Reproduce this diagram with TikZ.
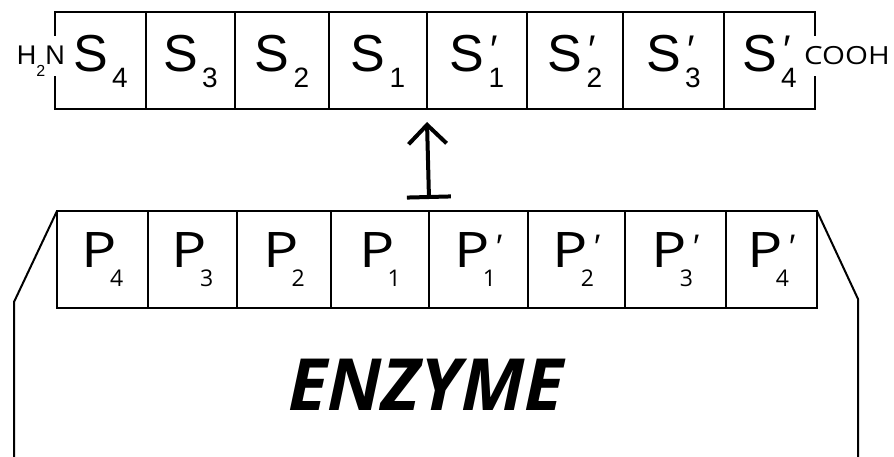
\documentclass[tikz,border=0pt]{standalone}
\usepackage{fontspec}
\setmainfont{Liberation Sans}
\newfontfamily\pfont{Open Sans}
\usetikzlibrary{arrows.meta}
\newcommand{\sS}{{\fontsize{52}{52}\selectfont S}\hspace{4pt}}
\newcommand{\sSub}[1]{\raisebox{-16pt}{\fontsize{28}{28}\selectfont #1}}
\newcommand{\sPr}{\makebox[0pt][l]{\raisebox{8pt}{\hspace{2pt}\fontsize{40}{40}\selectfont ′}}}
\newcommand{\pP}{\scalebox{1.2}[1]{\pfont\fontsize{49}{49}\selectfont P}\hspace{-7pt}}
\newcommand{\pSub}[1]{\raisebox{-19pt}{\pfont\fontsize{23}{23}\selectfont #1}}
\newcommand{\pPr}{\hspace{0pt}\raisebox{9pt}{\fontsize{34}{34}\selectfont ′}}
\begin{document}
\begin{tikzpicture}[x=1pt,y=-1pt,
  cellS/.style={rectangle,inner sep=0pt,outer sep=0pt,minimum height=97pt},
  cellP/.style={cellS,draw,line width=2pt},
  edge/.style={line width=2pt,line cap=rect},
  lab/.style={inner sep=0pt,anchor=base}]
\useasboundingbox (0,0) rectangle (894,457);
% substrate cells
\node[cellS,minimum width=91pt]  (s4) at (100.5,60.5) {};
\node[cellS,minimum width=89pt]  (s3) at (190.5,60.5) {};
\node[cellS,minimum width=94pt]  (s2) at (282,60.5) {};
\node[cellS,minimum width=98pt]  (s1) at (378,60.5) {};
\node[cellS,minimum width=100pt] (t1) at (477,60.5) {};
\node[cellS,minimum width=96pt]  (t2) at (575,60.5) {};
\node[cellS,minimum width=101pt] (t3) at (673.5,60.5) {};
\node[cellS,minimum width=91pt]  (t4) at (769.5,60.5) {};
\draw[edge] (s4.north west) -- (t4.north east);
\draw[edge] (s4.south west) -- (t4.south east);
\foreach \c in {s4,s3,s2,s1,t1,t2,t3}
  \draw[edge] (\c.north east) -- (\c.south east);
\draw[edge] (s4.north west) -- ++(0,23);
\draw[edge] (s4.south west) -- ++(0,-32);
\draw[edge] (t4.north east) -- ++(0,23);
\draw[edge] (t4.south east) -- ++(0,-32);
% substrate labels
\coordinate (sb) at (0,72);
\node[lab] (ls4) at (s4 |- sb) {\sS\sSub{4}};
\node[lab] (ls3) at (s3 |- sb) {\sS\sSub{3}};
\node[lab] (ls2) at (s2 |- sb) {\sS\sSub{2}};
\node[lab] (ls1) at (s1 |- sb) {\sS\sSub{1}};
\node[lab] (lt1) at (t1 |- sb) {\sS\sPr\sSub{1}};
\node[lab] (lt2) at (t2 |- sb) {\sS\sPr\sSub{2}};
\node[lab] (lt3) at (t3 |- sb) {\sS\sPr\sSub{3}};
\node[lab] (lt4) at (t4 |- sb) {\sS\sPr\sSub{4}};
% termini
\node[lab,anchor=base east] (nterm) at (65,65)
  {\fontsize{27}{27}\selectfont H\raisebox{-12pt}{\fontsize{16}{16}\selectfont 2}N};
\node[lab,anchor=base west] (cterm) at (804,65)
  {\pfont\fontsize{25}{25}\selectfont\scalebox{1.18}[1]{COOH}};
% enzyme pockets
\node[cellP,minimum width=91pt]  (p4) at (102.5,259.5) {};
\node[cellP,minimum width=89pt]  (p3) at (192.5,259.5) {};
\node[cellP,minimum width=94pt]  (p2) at (284,259.5) {};
\node[cellP,minimum width=98pt]  (p1) at (380,259.5) {};
\node[cellP,minimum width=99pt]  (q1) at (478.5,259.5) {};
\node[cellP,minimum width=97pt]  (q2) at (576.5,259.5) {};
\node[cellP,minimum width=101pt] (q3) at (675.5,259.5) {};
\node[cellP,minimum width=91pt]  (q4) at (771.5,259.5) {};
\coordinate (pb) at (0,267);
\node[lab] (lp4) at (p4 |- pb) {\pP\pSub{4}};
\node[lab] (lp3) at (p3 |- pb) {\pP\pSub{3}};
\node[lab] (lp2) at (p2 |- pb) {\pP\pSub{2}};
\node[lab] (lp1) at (p1 |- pb) {\pP\pSub{1}};
\node[lab] (lq1) at (q1 |- pb) {\pP\pSub{1}\pPr};
\node[lab] (lq2) at (q2 |- pb) {\pP\pSub{2}\pPr};
\node[lab] (lq3) at (q3 |- pb) {\pP\pSub{3}\pPr};
\node[lab] (lq4) at (q4 |- pb) {\pP\pSub{4}\pPr};
% enzyme body
\coordinate (el) at (14,302);
\coordinate (elb) at (14,457);
\coordinate (er) at (858,299);
\coordinate (erb) at (858,457);
\draw[line width=2pt] (p4.north west) -- (el) -- (elb);
\draw[line width=2pt] (q4.north east) -- (er) -- (erb);
\node[lab] (enz) at (426,410)
  {\pfont\bfseries\itshape\fontsize{72}{72}\selectfont ENZYME};
% cleavage arrow
\coordinate (atip) at ([yshift=-13pt]s1.south east);
\coordinate (abase) at ([yshift=12pt]p1.north east);
\draw[line width=4pt,{Bar[width=44pt]}-{Straight Barb[length=19pt,width=38pt]}] (abase) -- (atip);
\end{tikzpicture}
\end{document}
